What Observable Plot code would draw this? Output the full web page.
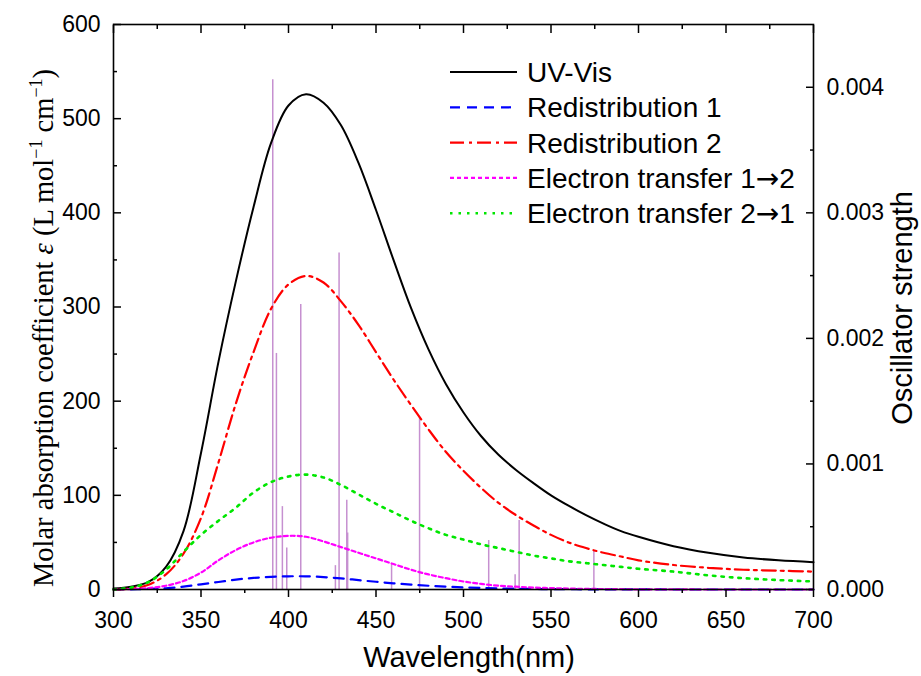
<!DOCTYPE html>
<html><head><meta charset="utf-8">
<script src="https://cdn.jsdelivr.net/npm/d3@7"></script>
<script src="https://cdn.jsdelivr.net/npm/@observablehq/plot@0.6"></script>
<style>
body{margin:0;background:#fff}
#chart{position:relative;width:921px;height:676px;overflow:hidden}
</style>
</head><body><div id="chart"></div>
<script>
// ---- data ----
const wavelengths = [300,310,320,330,340,350,360,370,380,390,400,410,420,430,440,450,460,470,480,490,500,510,520,530,540,550,560,570,580,590,600,620,640,660,680,700];
const uvVis  = [1,3,8,24,62,145,242,328,406,474,514,526,517,493,453,403,350,299,255,218,188,163,143,127,113,100,89,79,70,62,56,46,39,34,31,29];
const redis1 = [0,0.2,0.6,1.3,3,5.5,8,10.5,12.3,13.4,14,14,13.2,11.8,10,8.2,6.6,5.2,4,3,2.2,1.6,1.2,0.8,0.6,0.4,0.3,0.2,0.15,0.1,0.1,0,0,0,0,0];
const redis2 = [0,1,5,16,38,76,135,198,252,298,324,333,326,306,281,252,223,196,170,146,126,108,92,79,68,58,50,44,39,35,31,26,23,21,20,19];
const et12   = [0,0.5,1.5,4,9,18,31,42,50,55,57,56,51,45,39,33,27,21,16,12,8.5,6,4,3,2,1.5,1,0.7,0.5,0.3,0.2,0.1,0,0,0,0];
const et21   = [0,2,8,21,40,58,73,87,103,114,120,122,119,111,101,91,82,73,65,58,53,48,44,40,36,33,30,28,26,24,22,19,15,12,10,8.5];

const stickWl = [391.0,393.1,396.5,399.0,407.0,426.8,428.9,433.3,433.8,458.9,474.9,514.4,529.5,531.8,574.5];
const stickF  = [0.00406,0.00188,0.00066,0.00033,0.00227,0.00019,0.00268,0.00071,0.00045,0.000205,0.00137,0.00039,0.000117,0.00055,0.00031];

const xTicks = [300,350,400,450,500,550,600,650,700];
const xMinor = [325,375,425,475,525,575,625,675];
const yTicks = [0,100,200,300,400,500,600];
const yMinor = [50,150,250,350,450,550];
const fTicks = [0,0.001,0.002,0.003,0.004];
const fMinor = [0.0005,0.0015,0.0025,0.0035];
const epsMax = 600, fMax = 0.0045;

const seriesNames  = ["UV-Vis","Redistribution 1","Redistribution 2","Electron transfer 1","Electron transfer 2"];
const seriesArrowTo = [null,null,null,"2","1"];
const seriesValues = [uvVis, redis1, redis2, et12, et21];
const seriesColors = ["#000000","#0000ff","#ff0000","#ff00ff","#00e600"];
const seriesDash   = [null,"10,7","14,5,3,5","4,3","2.5,6"];
const seriesWidth  = [2,2.2,2.2,2.2,2.6];

// ---- build ----
const k = epsMax / fMax;
const sticks = stickWl.map((w,i)=>({wl:w, f:stickF[i]}));
const marks = [
  Plot.ruleX(sticks, {x:"wl", y1:0, y2:d=>d.f*k, stroke:"#c690d0", strokeWidth:1.5})
];
seriesValues.forEach((vals, s) => {
  const rows = wavelengths.map((w,i)=>({wl:w, v:vals[i]}));
  marks.push(Plot.line(rows, {x:"wl", y:"v", stroke:seriesColors[s], strokeWidth:seriesWidth[s],
    strokeDasharray:seriesDash[s] || undefined, curve:"catmull-rom"}));
});
const axisStyle = {stroke:"black", strokeWidth:1.5, label:null};
marks.push(
  Plot.frame({stroke:"black", strokeWidth:1.6}),
  // left
  Plot.axisY(yTicks, {anchor:"left", tickSize:0, tickPadding:13, fontSize:23, fill:"black", label:null}),
  Plot.axisY(yTicks, {anchor:"left", tickSize:8, dx:8, fill:"none", ...axisStyle}),
  Plot.axisY(yMinor, {anchor:"left", tickSize:4, dx:4, fill:"none", ...axisStyle}),
  // right
  Plot.axisY(fTicks.map(f=>f*k), {anchor:"right", tickSize:0, tickPadding:13, fontSize:23, fill:"black", label:null,
     tickFormat:v=>d3.format(".3f")(v/k)}),
  Plot.axisY(fTicks.map(f=>f*k), {anchor:"right", tickSize:8, dx:-8, fill:"none", ...axisStyle}),
  Plot.axisY(fMinor.map(f=>f*k), {anchor:"right", tickSize:4, dx:-4, fill:"none", ...axisStyle}),
  // bottom
  Plot.axisX(xTicks, {anchor:"bottom", tickSize:0, tickPadding:22, fontSize:23, fill:"black", label:null}),
  Plot.axisX(xTicks, {anchor:"bottom", tickSize:8, fill:"none", ...axisStyle}),
  Plot.axisX(xMinor, {anchor:"bottom", tickSize:4, fill:"none", ...axisStyle}),
  // top (inward)
  Plot.axisX(xTicks, {anchor:"top", tickSize:8, dy:8, fill:"none", ...axisStyle}),
  Plot.axisX(xMinor, {anchor:"top", tickSize:4, dy:4, fill:"none", ...axisStyle})
);

const chart = Plot.plot({
  width:921, height:676,
  marginLeft:113, marginRight:108, marginTop:24, marginBottom:87,
  x:{domain:[300,700]},
  y:{domain:[0,epsMax]},
  style:{fontFamily:"'Liberation Sans', Arial, sans-serif", background:"white", color:"black", overflow:"visible"},
  marks
});
document.getElementById("chart").appendChild(chart);

// ---- titles & legend ----
const svg = d3.select(chart);
const yTitle = svg.append("text")
  .attr("transform","translate(53,328) rotate(-90)")
  .attr("text-anchor","middle")
  .style("font-family","'Liberation Serif', 'Times New Roman', serif")
  .style("font-size","28.5px").attr("fill","black");
yTitle.append("tspan").text("Molar absorption coefficient ");
yTitle.append("tspan").style("font-style","italic").text("\u03B5");
yTitle.append("tspan").text(" (L mol");
yTitle.append("tspan").attr("dy",-11).style("font-size","18px").text("\u22121");
yTitle.append("tspan").attr("dy",11).text(" cm");
yTitle.append("tspan").attr("dy",-11).style("font-size","18px").text("\u22121");
yTitle.append("tspan").attr("dy",11).text(")");

svg.append("text")
  .attr("transform","translate(912,308) rotate(-90)")
  .attr("text-anchor","middle")
  .style("font-family","'Liberation Sans', Arial, sans-serif")
  .style("font-size","29px").attr("fill","black")
  .text("Oscillator strength");

svg.append("text")
  .attr("x",469).attr("y",667)
  .attr("text-anchor","middle")
  .style("font-family","'Liberation Sans', Arial, sans-serif")
  .style("font-size","29px").attr("fill","black")
  .text("Wavelength(nm)");

const legend = svg.append("g");
seriesNames.forEach((name, s) => {
  const yy = 72 + s*35.3;
  legend.append("line").attr("x1",450).attr("x2",517).attr("y1",yy).attr("y2",yy)
    .attr("stroke",seriesColors[s]).attr("stroke-width",seriesWidth[s])
    .attr("stroke-dasharray",seriesDash[s]);
  const t = legend.append("text").attr("x",527).attr("y",yy).attr("dy","0.36em")
    .attr("text-anchor","start")
    .style("font-family","'Liberation Sans', Arial, sans-serif")
    .style("font-size","28px").attr("fill","black").text(name);
  if (seriesArrowTo[s]) {
    t.append("tspan").style("font-family","'DejaVu Sans'").style("font-size","28px").text("\u2192");
    t.append("tspan").text(seriesArrowTo[s]);
  }
});
</script>
</body></html>
